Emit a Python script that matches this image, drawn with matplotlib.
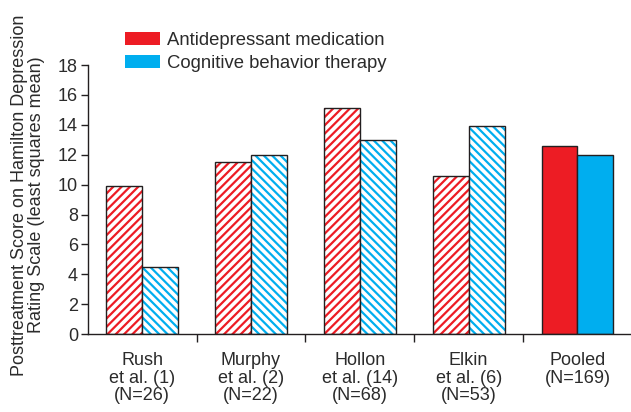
import numpy as np
import matplotlib.pyplot as plt
from matplotlib.patches import Patch

plt.rcParams['font.family'] = ['Liberation Sans', 'DejaVu Sans']
plt.rcParams['hatch.linewidth'] = 1.6

studies = ["Rush\net al. (1)\n(N=26)", "Murphy\net al. (2)\n(N=22)", "Hollon\net al. (14)\n(N=68)",
           "Elkin\net al. (6)\n(N=53)", "Pooled\n(N=169)"]
medication = [9.9, 11.5, 15.1, 10.6, 12.6]
cbt = [4.5, 12.0, 13.0, 13.9, 12.0]
series_names = ["Antidepressant medication", "Cognitive behavior therapy"]

red = "#ED1C24"
blue = "#00AEEF"
dark = "#231F20"
txt = "#2b2b2b"

fig = plt.figure(figsize=(6.31, 4.12), dpi=100)
ax = fig.add_axes([0.139, 0.189, 0.859, 0.653])

x = np.arange(len(studies))
w = 0.33
for i in range(len(studies)):
    pooled = i == len(studies) - 1
    for off, val, col, h in [(-w / 2, medication[i], red, "////"), (w / 2, cbt[i], blue, "\\\\\\\\")]:
        if pooled:
            ax.bar(x[i] + off, val, w, color=col, edgecolor=dark, lw=1)
        else:
            ax.bar(x[i] + off, val, w, color="white", edgecolor=col, hatch=h, lw=0)
            ax.bar(x[i] + off, val, w, fill=False, edgecolor=dark, lw=1)

ax.set_xlim(-0.5, 4.48)
ax.set_ylim(0, 18)
ax.set_yticks(range(0, 19, 2))
ax.set_xticks(x)
ax.set_xticklabels(studies, fontsize=13, color=txt, linespacing=1.05)
ax.set_xticks(np.arange(0.5, 4, 1), minor=True)
ax.tick_params(axis="x", which="major", length=0, pad=13)
ax.tick_params(axis="x", which="minor", length=6, width=1, color=dark)
ax.tick_params(axis="y", length=5, width=1, color=dark, labelsize=13, labelcolor=txt, pad=2)
for s in ["top", "right"]:
    ax.spines[s].set_visible(False)
for s in ["left", "bottom"]:
    ax.spines[s].set_color(dark)
    ax.spines[s].set_linewidth(1)

fig.text(0.044, 0.527, "Posttreatment Score on Hamilton Depression\nRating Scale (least squares mean)",
         rotation=90, ha="center", va="center", fontsize=13, color=txt, multialignment="center",
         linespacing=1.0)

handles = [Patch(facecolor=red, edgecolor="none"), Patch(facecolor=blue, edgecolor="none")]
fig.legend(handles, series_names, loc="upper left", bbox_to_anchor=(0.198, 0.922), frameon=False,
           fontsize=13.3, labelcolor=txt, handlelength=1.9, handleheight=0.7, handletextpad=0.35,
           labelspacing=0.3, borderpad=0, borderaxespad=0)

fig.savefig("out.png", dpi=100)
